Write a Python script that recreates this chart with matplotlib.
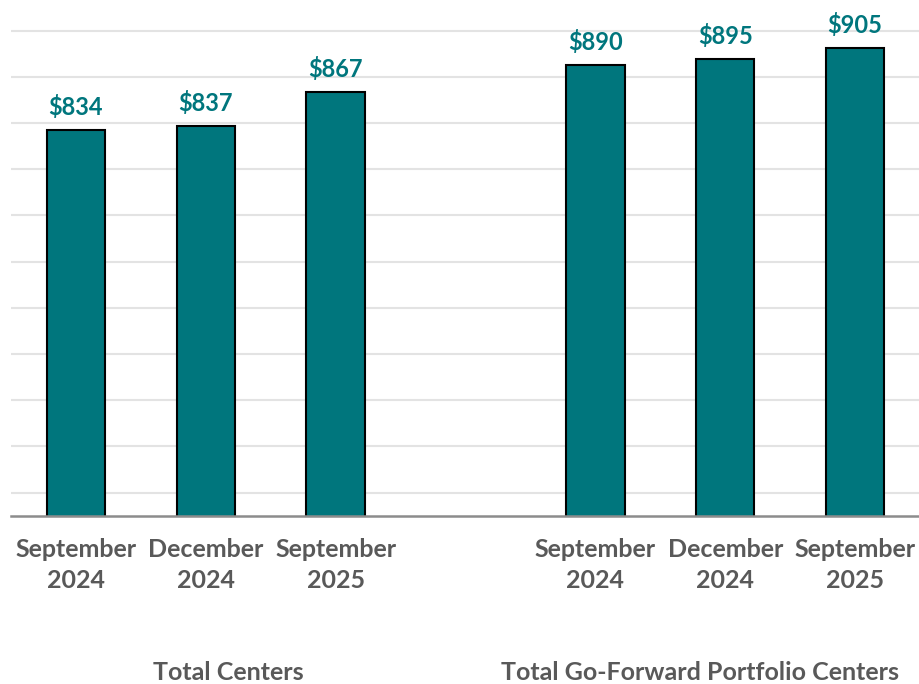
import matplotlib.pyplot as plt
import numpy as np

periods = ["September\n2024", "December\n2024", "September\n2025"]
total_centers = [834, 837, 867]
go_forward_centers = [890, 895, 905]
group_names = ["Total Centers", "Total Go-Forward Portfolio Centers"]

teal = "#00767D"
grey_text = "#595959"

plt.rcParams["font.family"] = ["Lato", "DejaVu Sans"]

fig = plt.figure(figsize=(9.19, 6.84), dpi=100)
ax = fig.add_axes([11 / 919, 168.3 / 684, 909 / 919, 515.7 / 684])

# slots 0-2 for first group, slot 3 left empty, slots 4-6 for second group
xs = [0, 1, 2, 4, 5, 6]
values = total_centers + go_forward_centers
labels = periods + periods

bars = ax.bar(xs, values, width=0.45, color=teal, edgecolor="black",
              linewidth=1.5, zorder=3)
for b, v in zip(bars, values):
    ax.annotate(f"${v}", (b.get_x() + b.get_width() / 2, v),
                xytext=(0, 8), textcoords="offset points",
                ha="center", va="bottom", color=teal,
                fontsize=17, fontweight="bold")

ax.set_xlim(-0.5, 6.5)
ax.set_ylim(500, 946.5)
ax.set_yticks(np.arange(520, 921, 40))
ax.yaxis.grid(True, color="#E3E3E3", linewidth=1.5, zorder=0)
ax.tick_params(axis="y", left=False, labelleft=False)
ax.set_xticks(xs)
ax.set_xticklabels(labels, fontsize=18, fontweight="bold",
                   color=grey_text, linespacing=1.4)
ax.tick_params(axis="x", length=0, pad=16)

for s in ["top", "right", "left"]:
    ax.spines[s].set_visible(False)
ax.spines["bottom"].set_color("#8C8C8C")
ax.spines["bottom"].set_linewidth(1.8)
ax.spines["bottom"].set_zorder(4)

fig.text(228 / 919, 1 - 673 / 684, group_names[0], ha="center", va="center",
         fontsize=18, fontweight="bold", color=grey_text)
fig.text(700 / 919, 1 - 673 / 684, group_names[1], ha="center", va="center",
         fontsize=18, fontweight="bold", color=grey_text)

fig.savefig("out.png", dpi=100)
